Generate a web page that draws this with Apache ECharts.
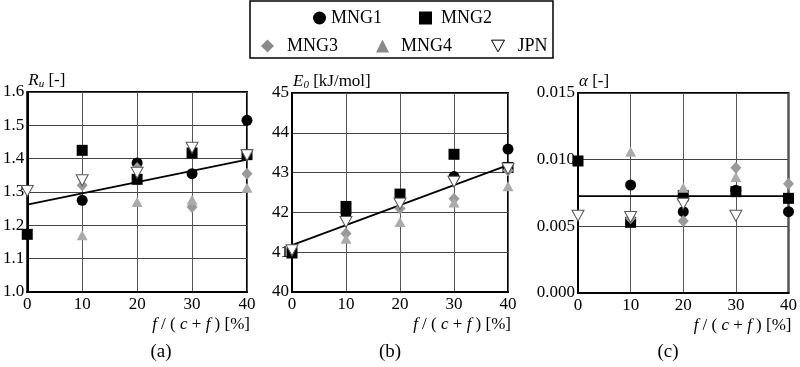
<!DOCTYPE html>
<html><head><meta charset="utf-8">
<script src="https://cdn.jsdelivr.net/npm/echarts@6/dist/echarts.min.js"></script>
<style>html,body{margin:0;padding:0;background:#fff}#c{width:800px;height:367px}</style>
</head><body><div id="c"></div>
<script>
var seriesNames = ['MNG1','MNG2','MNG3','MNG4','JPN'];
var xTicks = [0,10,20,30,40];
// (a) Ru
var a_MNG1 = [[10,1.275],[20,1.387],[30,1.355],[40,1.515]];
var a_MNG2 = [[0,1.173],[10,1.425],[20,1.338],[30,1.417],[40,1.412]];
var a_MNG3 = [[10,1.32],[20,1.372],[30,1.255],[40,1.355]];
var a_MNG4 = [[10,1.17],[20,1.27],[30,1.277],[40,1.313]];
var a_JPN  = [[0,1.303],[10,1.335],[20,1.358],[30,1.433],[40,1.41]];
var a_trend = [[0,1.262],[40,1.397]];
// (b) E0
var b_MNG1 = [[10,41.97],[30,42.9],[40,43.59]];
var b_MNG2 = [[0,40.98],[10,42.15],[20,42.46],[30,43.46],[40,43.13]];
var b_MNG3 = [[10,41.47],[20,42.1],[30,42.34],[40,43.05]];
var b_MNG4 = [[10,41.34],[20,41.76],[30,42.25],[40,42.66]];
var b_JPN  = [[0,41.05],[10,41.76],[20,42.22],[30,42.77],[40,43.1]];
var b_trend = [[0,41.18],[40,43.19]];
// (c) alpha
var c_MNG1 = [[10,0.0081],[20,0.0061],[30,0.0077],[40,0.0061]];
var c_MNG2 = [[0,0.0099],[10,0.0053],[20,0.0073],[30,0.0076],[40,0.0071]];
var c_MNG3 = [[10,0.0056],[20,0.0054],[30,0.0094],[40,0.0082]];
var c_MNG4 = [[10,0.0106],[20,0.0079],[30,0.0087]];
var c_JPN  = [[0,0.0058],[10,0.0057],[20,0.0067],[30,0.0058]];
var c_trend = [[0,0.00727],[40,0.00727]];

var FONT = '"Liberation Serif", "Times New Roman", serif';
var invTri = 'path://M0,0 L10,0 L5,9 Z';
var styles = {
  MNG1: {symbol:'circle', symbolSize:11, itemStyle:{color:'#000', opacity:1}},
  MNG2: {symbol:'rect', symbolSize:11, itemStyle:{color:'#000', opacity:1}},
  MNG3: {symbol:'diamond', symbolSize:[11,12], itemStyle:{color:'#9a9a9a', opacity:1}},
  MNG4: {symbol:'triangle', symbolSize:[11,10], itemStyle:{color:'#ababab', opacity:1}},
  JPN:  {symbol:invTri, symbolSize:[12,11], itemStyle:{color:'#fff', borderColor:'#555', borderWidth:1, opacity:1}}
};
var panels = [
  {data:[a_MNG1,a_MNG2,a_MNG3,a_MNG4,a_JPN], trend:a_trend},
  {data:[b_MNG1,b_MNG2,b_MNG3,b_MNG4,b_JPN], trend:b_trend},
  {data:[c_MNG1,c_MNG2,c_MNG3,c_MNG4,c_JPN], trend:c_trend}
];
var grids = [
  {left:27, top:92, width:220, height:200},
  {left:292, top:93, width:216, height:199},
  {left:578, top:93, width:212, height:200}
];
var yCfg = [
  {min:1.0, max:1.6, interval:0.1, fmt:function(v){return v.toFixed(1);}, name:'{i|R}{s|u} [-]'},
  {min:40, max:45, interval:1, fmt:function(v){return String(v);}, name:'{i|E}{s|0} [kJ/mol]'},
  {min:0, max:0.015, interval:0.005, fmt:function(v){return v.toFixed(3);}, name:'{i|α} [-]'}
];
var rich = {
  i:{fontFamily:FONT, fontStyle:'italic', fontSize:17, color:'#000'},
  s:{fontFamily:FONT, fontStyle:'italic', fontSize:11, color:'#000', verticalAlign:'bottom', padding:[6,0,0,0]}
};
var legendPos = [
  {left:308, top:4, name:'MNG1', pad:0},
  {left:414, top:4, name:'MNG2', pad:4},
  {left:256, top:32, name:'MNG3', pad:8},
  {left:371, top:32, name:'MNG4', pad:7},
  {left:486, top:32, name:'JPN', pad:8}
];
var option = {
  animation:false,
  backgroundColor:'#fff',
  textStyle:{fontFamily:FONT},
  grid: grids.map(function(g){return Object.assign({show:true, borderColor:'#000', borderWidth:2, backgroundColor:'transparent'}, g);}),
  xAxis: grids.map(function(g,i){return {
    gridIndex:i, type:'value', min:0, max:40, interval:10,
    axisLine:{show:true, lineStyle:{color:'#000', width:2}},
    axisTick:{show:false},
    axisLabel:{color:'#000', fontSize:17, fontFamily:FONT, margin:4},
    splitLine:{show:true, lineStyle:{color:'#555', width:1}},
    name:'{i|f} / ( {i|c} + {i|f} ) [%]',
    nameLocation:'end', nameGap:3, nameMoveOverlap:false,
    nameTextStyle:{color:'#000', fontSize:17, fontFamily:FONT, align:'right', verticalAlign:'top', padding:[24,0,0,0], rich:rich}
  };}),
  yAxis: yCfg.map(function(c,i){return {
    gridIndex:i, type:'value', min:c.min, max:c.max, interval:c.interval,
    axisLine:{show:true, lineStyle:{color:'#000', width:2}},
    axisTick:{show:false},
    axisLabel:{color:'#000', fontSize:17, fontFamily:FONT, margin:3, formatter:c.fmt},
    splitLine:{show:true, lineStyle:{color:'#444', width:1}},
    name:c.name, nameLocation:'end', nameGap:11, nameMoveOverlap:false,
    nameTextStyle:{color:'#000', fontSize:17, fontFamily:FONT, align:'left', verticalAlign:'middle', padding:[0,0,0,1], rich:rich}
  };}),
  legend: legendPos.map(function(l){
    var st = styles[l.name];
    var item = {name:l.name, icon: st.symbol};
    if (l.name === 'JPN') item.itemStyle = {color:'#fff', borderColor:'#000', borderWidth:1};
    if (l.name === 'MNG3' || l.name === 'MNG4') item.itemStyle = {color:'#8a8a8a'};
    return {left:l.left, top:l.top, data:[item], itemWidth:13, itemHeight:13, itemGap:0,
      selectedMode:false, textStyle:{fontFamily:FONT, fontSize:18, color:'#000', padding:[0,0,0,l.pad]}};
  }),
  title: [
    {text:'(a)', left:161, top:343, textAlign:'center'},
    {text:'(b)', left:390, top:343, textAlign:'center'},
    {text:'(c)', left:668, top:343, textAlign:'center'}
  ].map(function(t){t.textStyle = {fontFamily:FONT, fontSize:19, fontWeight:'normal', color:'#000'}; t.padding = 0; return t;}),
  graphic: [{type:'rect', shape:{x:250, y:1, width:303, height:57}, style:{fill:'none', stroke:'#000', lineWidth:1.5}, silent:true}],
  series: []
};
panels.forEach(function(p, i){
  option.series.push({type:'line', xAxisIndex:i, yAxisIndex:i, data:p.trend, symbol:'none',
    lineStyle:{color:'#000', width:1.8}, z:2, silent:true});
  seriesNames.forEach(function(n, k){
    var st = styles[n];
    option.series.push({type:'scatter', name:n, xAxisIndex:i, yAxisIndex:i, data:p.data[k],
      symbol:st.symbol, symbolSize:st.symbolSize, itemStyle:st.itemStyle, z:3+k, silent:true});
  });
});
var chart = echarts.init(document.getElementById('c'), null, {renderer:'canvas'});
chart.setOption(option);
</script></body></html>
